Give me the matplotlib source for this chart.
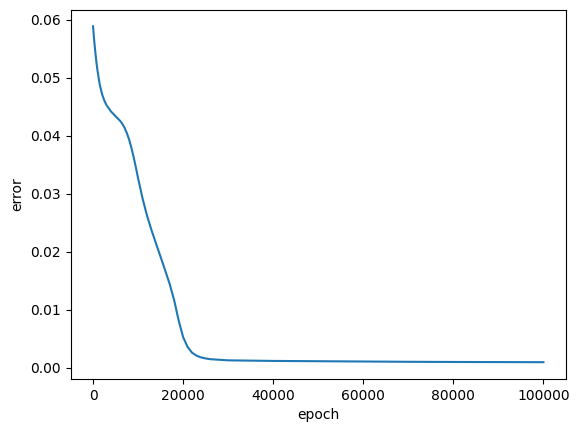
import matplotlib
matplotlib.use('Agg')
import matplotlib.pyplot as plt

# error values
epochs = [0, 250, 500, 750, 1000, 1500, 2000, 2500, 3000, 4000, 5000, 5500, 6000, 6500, 7000,
          7500, 8000, 8500, 9000, 9500, 10000, 11000, 12000, 13000, 14000, 15500, 17000, 18000,
          19000, 20000, 21000, 22000, 23000, 24000, 25000, 26000, 28000, 30000, 35000, 40000,
          50000, 60000, 70000, 80000, 90000, 100000]
errors = [0.0589, 0.0565, 0.0545, 0.0527, 0.0512, 0.0488, 0.0472, 0.0461, 0.0453, 0.0442,
          0.0434, 0.0430, 0.0426, 0.0421, 0.0414, 0.0405, 0.0394, 0.0380, 0.0364, 0.0346,
          0.0327, 0.0292, 0.0262, 0.0237, 0.0214, 0.0180, 0.0145, 0.0117, 0.0082, 0.0053,
          0.0036, 0.0026, 0.0021, 0.0018, 0.00163, 0.0015, 0.0014, 0.0013, 0.00125, 0.0012,
          0.00115, 0.0011, 0.00105, 0.00102, 0.001, 0.00098]

fig, ax = plt.subplots(figsize=(5.79, 4.32), dpi=100)
fig.subplots_adjust(left=0.1218, right=0.9775, top=0.978, bottom=0.1227)
ax.plot(epochs, errors)
ax.set_xlabel('epoch')
ax.set_ylabel('error')

plt.savefig('out.png')
